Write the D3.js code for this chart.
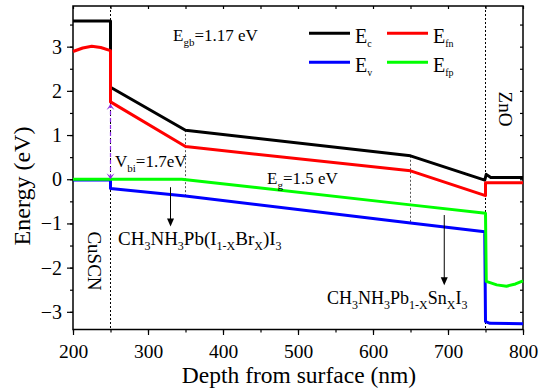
<!DOCTYPE html>
<html>
<head>
<meta charset="utf-8">
<script src="https://cdn.jsdelivr.net/npm/d3@7"></script>
<style>
  body { margin: 0; background: #fff; }
  svg text { font-family: "Liberation Serif", "Times New Roman", serif; fill: #000; }
</style>
</head>
<body>
<svg width="539" height="390"></svg>
<script>
// band diagram values (depth in nm, energy in eV)
var ecX = [200, 250, 250, 350, 650, 749, 751, 757, 800];
var ecY = [3.58, 3.58, 2.08, 1.11, 0.53, -0.02, 0.11, 0.04, 0.04];

var efnX = [200, 213, 225, 237, 250, 250, 350, 650, 750, 750, 800];
var efnY = [2.89, 2.97, 3.01, 2.98, 2.91, 1.75, 0.74, 0.19, -0.37, -0.08, -0.08];

var evX = [200, 250, 250, 350, 650, 749, 750, 756, 800];
var evY = [-0.02, -0.02, -0.21, -0.38, -0.99, -1.19, -3.22, -3.26, -3.27];

var efpX = [200, 250, 345, 650, 750, 751, 765, 778, 790, 800];
var efpY = [0, 0, 0, -0.58, -0.77, -2.31, -2.39, -2.42, -2.37, -2.3];

var xTicks = [200, 300, 400, 500, 600, 700, 800];
var yTicks = [-3, -2, -1, 0, 1, 2, 3];
var interfaces = [250, 750];       // dotted full-height lines
var grading = [350, 650];          // short dotted lines between Ec and Ev

var svg = d3.select("svg"),
	plotL = 73, plotR = 523, plotT = 6, plotB = 329.5;

var x = d3.scaleLinear().domain([200, 800]).range([plotL, plotR]);
var y = d3.scaleLinear().domain([-3.4, 3.92]).range([plotB, plotT]);

function zip(xs, ys) { return xs.map(function(d, i) { return [d, ys[i]]; }); }

// frame
svg.append("rect")
	.attr("x", plotL).attr("y", plotT)
	.attr("width", plotR - plotL).attr("height", plotB - plotT)
	.attr("fill", "none").attr("stroke", "#000").attr("stroke-width", 1.5);

// minor + major ticks
var minorX = d3.range(200, 801, 50), minorY = d3.range(-3, 3.6, 0.5);

function minor(g) { g.selectAll("text").remove(); }

svg.append("g").attr("transform", "translate(0," + plotB + ")")
	.call(d3.axisBottom(x).tickValues(minorX).tickSize(3).tickSizeOuter(0)).call(minor);
var xAxis = svg.append("g").attr("transform", "translate(0," + plotB + ")")
	.call(d3.axisBottom(x).tickValues(xTicks).tickSize(5.5).tickSizeOuter(0).tickPadding(9).tickFormat(d3.format("d")));
svg.append("g").attr("transform", "translate(0," + plotT + ")")
	.call(d3.axisBottom(x).tickValues(minorX).tickSize(3).tickSizeOuter(0)).call(minor);

svg.append("g").attr("transform", "translate(" + plotL + ",0)")
	.call(d3.axisLeft(y).tickValues(minorY).tickSize(3).tickSizeOuter(0)).call(minor);
svg.append("g").attr("transform", "translate(" + plotL + ",0)")
	.call(d3.axisLeft(y).tickValues(yTicks).tickSize(6).tickSizeOuter(0).tickPadding(5).tickFormat(d3.format("d")));
svg.append("g").attr("transform", "translate(" + plotR + ",0)")
	.call(d3.axisLeft(y).tickValues(minorY).tickSize(3).tickSizeOuter(0)).call(minor);

svg.selectAll(".domain").attr("stroke", "none");
svg.selectAll(".tick line").attr("stroke", "#000").attr("stroke-width", 1.2);
svg.selectAll(".tick text")
	.style("font-family", "Liberation Serif, serif")
	.attr("fill", "#000")
	.style("font-size", "20px");
xAxis.selectAll(".tick text").style("font-size", "19.5px");

// dotted guides
interfaces.forEach(function(d) {
	svg.append("line")
		.attr("x1", x(d)).attr("x2", x(d)).attr("y1", plotT).attr("y2", plotB)
		.attr("stroke", "#000").attr("stroke-width", 1).attr("stroke-dasharray", "2,2");
});
grading.forEach(function(d) {
	svg.append("line")
		.attr("x1", x(d)).attr("x2", x(d))
		.attr("y1", y(ecY[ecX.indexOf(d)])).attr("y2", y(evY[evX.indexOf(d)]))
		.attr("stroke", "#555").attr("stroke-width", 1).attr("stroke-dasharray", "2,2");
});

// bands
var line = d3.line().x(function(d) { return x(d[0]); }).y(function(d) { return y(d[1]); });
var series = [
	{pts: zip(ecX, ecY), color: "#000"},
	{pts: zip(efnX, efnY), color: "#ff0000"},
	{pts: zip(evX, evY), color: "#0000ff"},
	{pts: zip(efpX, efpY), color: "#00ff00"}
];
svg.append("g").selectAll("path")
	.data(series)
	.enter().append("path")
		.attr("d", function(d) { return line(d.pts); })
		.attr("fill", "none")
		.attr("stroke", function(d) { return d.color; })
		.attr("stroke-width", 3)
		.attr("stroke-linejoin", "round");

// built-in potential arrow
var vbiTop = 1.7, purple = "#8a2be2";
svg.append("line")
	.attr("x1", x(250)).attr("x2", x(250))
	.attr("y1", y(vbiTop)).attr("y2", y(0))
	.attr("stroke", purple).attr("stroke-width", 1.2).attr("stroke-dasharray", "4,3");
svg.append("path")
	.attr("d", "M" + (x(250) - 4) + "," + (y(vbiTop) + 6) + "L" + x(250) + "," + y(vbiTop) + "L" + (x(250) + 4) + "," + (y(vbiTop) + 6) + "L" + x(250) + "," + (y(vbiTop) + 3) + "Z")
	.attr("fill", purple);
svg.append("path")
	.attr("d", "M" + (x(250) - 4) + "," + (y(0) - 6) + "L" + x(250) + "," + y(0) + "L" + (x(250) + 4) + "," + (y(0) - 6) + "L" + x(250) + "," + (y(0) - 3) + "Z")
	.attr("fill", purple);

// black pointer arrows
function arrow(xv, y1, y2) {
	svg.append("line")
		.attr("x1", x(xv)).attr("x2", x(xv)).attr("y1", y(y1)).attr("y2", y(y2) - 6)
		.attr("stroke", "#000").attr("stroke-width", 1);
	svg.append("path")
		.attr("d", "M" + (x(xv) - 3.5) + "," + (y(y2) - 8) + "L" + x(xv) + "," + y(y2) + "L" + (x(xv) + 3.5) + "," + (y(y2) - 8) + "Z")
		.attr("fill", "#000");
}
arrow(330, -0.18, -1.07);
arrow(695, -0.81, -2.4);

// text with subscripts: parts = [[str, isSub], ...]
function label(px, py, parts, size, sub, shift) {
	var t = svg.append("text").attr("x", px).attr("y", py).style("font-size", size + "px");
	var down = false;
	parts.forEach(function(p) {
		var s = t.append("tspan").text(p[0]);
		if (p[1] && !down) { s.attr("dy", shift).style("font-size", sub + "px"); down = true; }
		else if (p[1]) { s.style("font-size", sub + "px"); }
		else if (down) { s.attr("dy", -shift); down = false; }
	});
	return t;
}

label(173, 40.5, [["E"], ["gb", 1], ["=1.17 eV"]], 17, 11, 5);
label(115, 166.5, [["V"], ["bi", 1], ["=1.7eV"]], 17, 11, 5);
label(267, 183.5, [["E"], ["g", 1], ["=1.5 eV"]], 17, 11, 5);
label(118, 245, [["CH"], ["3", 1], ["NH"], ["3", 1], ["Pb(I"], ["1-X", 1], ["Br"], ["X", 1], [")I"], ["3", 1]], 19, 12, 5);
label(327, 304, [["CH"], ["3", 1], ["NH"], ["3", 1], ["Pb"], ["1-X", 1], ["Sn"], ["X", 1], ["I"], ["3", 1]], 18, 12, 5);

// legend
var legend = [
	{name: "c", color: "#000", lx: 309, ly: 33.3},
	{name: "fn", color: "#ff0000", lx: 387, ly: 33.3},
	{name: "v", color: "#0000ff", lx: 309, ly: 62.3},
	{name: "fp", color: "#00ff00", lx: 387, ly: 62.3}
];
legend.forEach(function(d) {
	svg.append("line")
		.attr("x1", d.lx).attr("x2", d.lx + 41).attr("y1", d.ly).attr("y2", d.ly)
		.attr("stroke", d.color).attr("stroke-width", 3);
	label(d.lx + 46, d.ly + 9.5, [["E"], [d.name, 1]], 20, 10, 4);
});

// layer names
svg.append("text")
	.attr("transform", "translate(505.5,109) rotate(90)")
	.attr("text-anchor", "middle").attr("dy", "0.35em")
	.style("font-size", "19px").text("ZnO");
svg.append("text")
	.attr("transform", "translate(95,261) rotate(90)")
	.attr("text-anchor", "middle").attr("dy", "0.35em")
	.style("font-size", "19px").text("CuSCN");

// axis titles
svg.append("text")
	.attr("x", 299).attr("y", 383)
	.attr("text-anchor", "middle")
	.style("font-size", "23.5px").text("Depth from surface (nm)");
svg.append("text")
	.attr("transform", "translate(22,186) rotate(-90)")
	.attr("text-anchor", "middle").attr("dy", "0.35em")
	.style("font-size", "24px").text("Energy (eV)");
</script>
</body>
</html>
